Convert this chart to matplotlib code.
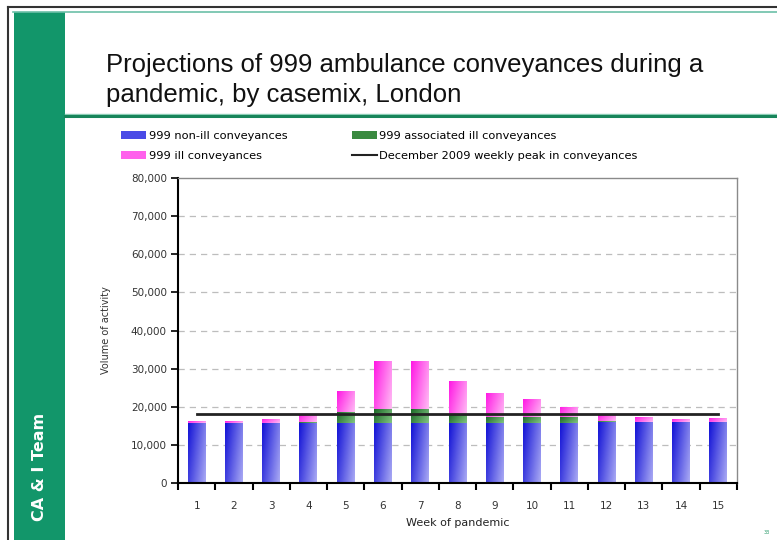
import numpy as np
import matplotlib.pyplot as plt
from matplotlib.patches import Rectangle, Patch
from matplotlib.lines import Line2D

# weekly projections (conveyances per week)
weeks = list(range(1, 16))
non_ill = [15800, 15800, 15800, 15800, 15800, 15800, 15800, 15800,
           15800, 15800, 15800, 16000, 15900, 15900, 15900]
assoc_ill = [0, 0, 0, 200, 2900, 3600, 3600, 2100,
             1600, 1600, 1400, 300, 200, 0, 0]
ill = [500, 500, 1100, 2100, 5500, 12700, 12600, 8900,
       6300, 4600, 2800, 1800, 1300, 900, 1100]
dec_2009_peak = 18200

W, H = 777, 540
fig = plt.figure(figsize=(W / 100, H / 100), dpi=100)
fig.patch.set_facecolor('white')


def fx(x):
    return x / W


def fy(y):
    return 1 - y / H


# slide frame: dark border, green side band and rules
GREEN = '#12966a'
fig.add_artist(Line2D([fx(8), fx(8)], [fy(7), fy(540)], color='#333333', lw=1.5))
fig.add_artist(Line2D([fx(8), 1], [fy(7), fy(7)], color='#333333', lw=1.5))
fig.add_artist(Line2D([fx(13), 1], [fy(11.5), fy(11.5)], color='#6cc0a8', lw=1.2))
fig.add_artist(Rectangle((fx(14), 0), fx(65) - fx(14), fy(12), color=GREEN, lw=0))
fig.add_artist(Line2D([fx(65), 1], [fy(113.5), fy(113.5)], color='#8fd0b8', lw=1))
fig.add_artist(Line2D([fx(65), 1], [fy(116), fy(116)], color='#17855a', lw=2.2))

fig.text(fx(39), fy(467), 'CA & I Team', rotation=90, color='white',
         fontsize=11.5, fontweight='bold', ha='center', va='center')

fig.text(fx(106), fy(80), 'Projections of 999 ambulance conveyances during a\npandemic, by casemix, London',
         fontsize=18.5, family='Liberation Sans',
         color='#111111', ha='left', va='center', linespacing=1.3)

fig.text(fx(767), fy(533), '33', fontsize=3.5, color='#2a9a6a', ha='center', va='center')

# chart area
ax = fig.add_axes([fx(178), fy(483), fx(737) - fx(178), fy(178) - fy(483)])


def gradient_bars(ax, patches, dark, light):
    dark = np.array(plt.matplotlib.colors.to_rgb(dark))
    light = np.array(plt.matplotlib.colors.to_rgb(light))
    xx, yy = np.meshgrid(np.linspace(0, 1, 32), np.linspace(0, 1, 32))
    t = np.clip(0.7 * xx + 0.3 * (1 - yy), 0, 1)
    img = dark + t[..., None] * (light - dark)
    for p in patches:
        h = p.get_height()
        if h <= 0:
            continue
        x0, y0, w = p.get_x(), p.get_y(), p.get_width()
        im = ax.imshow(img, extent=[x0, x0 + w, y0, y0 + h], aspect='auto',
                       origin='lower', zorder=2, interpolation='bilinear')
        im.set_clip_path(p)


bw = 0.48
bottom2 = np.array(non_ill)
bottom3 = bottom2 + np.array(assoc_ill)
b1 = ax.bar(weeks, non_ill, bw, color='none', edgecolor='none', zorder=2)
b2 = ax.bar(weeks, assoc_ill, bw, bottom=bottom2, color='none', edgecolor='none', zorder=2)
b3 = ax.bar(weeks, ill, bw, bottom=bottom3, color='none', edgecolor='none', zorder=2)
gradient_bars(ax, b1, '#1212d6', '#aaaaf4')
gradient_bars(ax, b2, '#1c6a28', '#80c480')
gradient_bars(ax, b3, '#ff18e4', '#ffbcf4')

ax.plot([weeks[0], weeks[-1]], [dec_2009_peak, dec_2009_peak], color='#222222', lw=2, zorder=3)

ax.set_xlim(0.5, 15.5)
ax.set_ylim(0, 80000)
ax.set_yticks(range(0, 80001, 10000))
ax.set_yticklabels([f'{v:,}' for v in range(0, 80001, 10000)])
ax.set_xticks(weeks)
ax.set_xticks(np.arange(0.5, 15.6, 1), minor=True)
ax.tick_params(axis='x', which='major', length=0, pad=13, labelsize=7.5, labelcolor='#333333')
ax.tick_params(axis='x', which='minor', length=5, width=1.5, direction='out', color='black')
ax.tick_params(axis='y', length=5, width=1.2, direction='out', labelsize=7.5,
               labelcolor='#333333', pad=3)
for v in range(10000, 80000, 10000):
    ax.axhline(v, color='#bdbdbd', lw=0.9, ls=(0, (5, 4)), zorder=1)

for s in ['left', 'bottom']:
    ax.spines[s].set_color('black')
    ax.spines[s].set_linewidth(1.5)
for s in ['top', 'right']:
    ax.spines[s].set_color('#8a8a8a')
    ax.spines[s].set_linewidth(1)

ax.set_xlabel('Week of pandemic', fontsize=8, color='#222222', labelpad=5)
ax.set_ylabel('Volume of activity', fontsize=7, color='#333333', labelpad=14)

handles = [Patch(facecolor='#4a4ae6', edgecolor='none'),
           Patch(facecolor='#ff60ec', edgecolor='none'),
           Patch(facecolor='#3a8a40', edgecolor='none'),
           Line2D([], [], color='#222222', lw=1.5)]
labels = ['999 non-ill conveyances', '999 ill conveyances',
          '999 associated ill conveyances', 'December 2009 weekly peak in conveyances']
fig.legend(handles, labels, ncol=2, loc='upper left', bbox_to_anchor=(fx(111), fy(121)),
           frameon=False, fontsize=8.2, handlelength=2.2, handleheight=0.7,
           handletextpad=0.25, columnspacing=5.6, labelspacing=0.85)

fig.savefig('out.png', dpi=100)
